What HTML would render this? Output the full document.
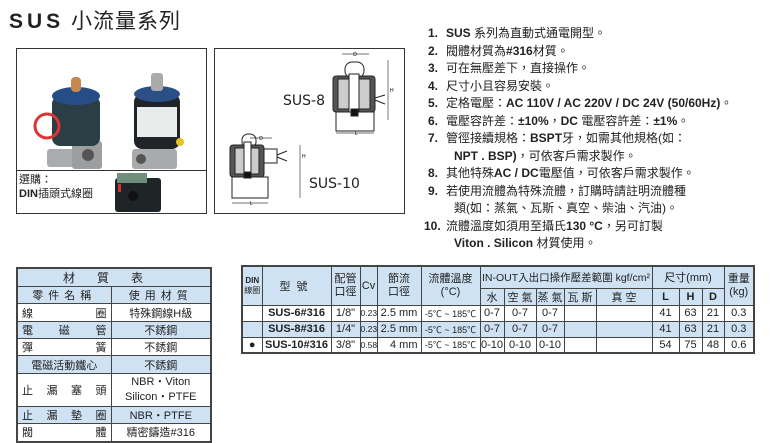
<!DOCTYPE html>
<html><head><meta charset="utf-8"><style>
*{margin:0;padding:0;box-sizing:border-box}
body{width:771px;height:440px;background:#fff;position:relative;overflow:hidden;font-family:"Liberation Sans","Noto Sans CJK TC",sans-serif;color:#222}
.abs{position:absolute}
.title{left:9px;top:5px;font-size:21px;white-space:nowrap;letter-spacing:1px}
.title b{font-family:"Liberation Sans",sans-serif;font-weight:900;letter-spacing:4px}
.box{border:1px solid #333}
.list{left:428px;top:25px;font-size:12px;line-height:17.5px;white-space:nowrap}
.list div{position:relative;padding-left:18px}
.list .n{position:absolute;left:0;font-weight:bold}
.list .c{padding-left:26px}
table{border-collapse:collapse;position:absolute;font-size:11px;table-layout:fixed}
td{border:1px solid #444;text-align:center;padding:0;overflow:hidden;white-space:nowrap}
.bl{background:#cfe2f3}
</style></head><body>
<div class="abs title"><b>SUS</b> 小流量系列</div>

<div class="abs box" style="left:16px;top:48px;width:191px;height:166px"></div>
<div class="abs" style="left:16px;top:170px;width:191px;height:1px;background:#333"></div>
<svg class="abs" style="left:17px;top:49px" width="189" height="120">
<rect x="30" y="100" width="45" height="18" rx="3" fill="#a9abad"/>
<rect x="55" y="92" width="30" height="28" rx="3" fill="#9c9ea0"/>
<circle cx="71" cy="106" r="6" fill="#555"/>
<rect x="35" y="47" width="48" height="50" rx="8" fill="#2c3e45"/>
<ellipse cx="59" cy="47" rx="24" ry="9" fill="#274d86"/>
<rect x="54" y="28" width="10" height="15" rx="4" fill="#c8884d"/>
<circle cx="30" cy="77" r="12" fill="none" stroke="#d33" stroke-width="3"/>
<rect x="115" y="100" width="45" height="20" rx="3" fill="#a8aaac"/>
<circle cx="124" cy="110" r="5" fill="#555"/>
<rect x="117" y="45" width="46" height="55" rx="8" fill="#202428"/>
<ellipse cx="140" cy="45" rx="23" ry="8" fill="#2b4f86"/>
<rect x="134" y="24" width="12" height="18" rx="3" fill="#aaa"/>
<rect x="120" y="58" width="40" height="30" fill="#e9eceb"/>
<circle cx="163" cy="93" r="4" fill="#e8c221"/>
</svg>
<div class="abs" style="left:19px;top:173px;font-size:11px;line-height:14px">選購：<br><b>DIN</b>插頭式線圈</div>
<svg class="abs" style="left:105px;top:172px" width="70" height="42">
<rect x="10" y="6" width="46" height="34" rx="3" fill="#1f2426"/>
<rect x="12" y="1" width="30" height="10" fill="#6f8f7d"/>
<circle cx="28" cy="24" r="5" fill="#111"/>
<rect x="13" y="12" width="3" height="8" fill="#c33"/>
</svg>

<div class="abs box" style="left:214px;top:48px;width:191px;height:166px"></div>
<svg class="abs" style="left:214px;top:48px" width="191" height="166" font-family="Liberation Sans">
<g stroke="#222" fill="#fff" stroke-width="1">
<rect x="131" y="14" width="19" height="16" rx="7"/>
<rect x="119" y="28" width="42" height="36" rx="3" fill="#555"/>
<rect x="124" y="31" width="32" height="30" fill="#ccc"/>
<rect x="135" y="26" width="10" height="40" fill="#fff"/>
<rect x="122" y="64" width="38" height="19"/>
<rect x="137" y="61" width="7" height="7" fill="#111"/>
<path d="M161 50 l10 -3 M161 52 l10 4" fill="none"/>
</g>
<g stroke="#444" stroke-width="0.7" fill="none"><path d="M128 6 h27 M174 12 v60 M122 85 h38"/></g>
<text x="141" y="8" font-size="5" text-anchor="middle">D</text>
<text x="176" y="44" font-size="5">H</text>
<text x="141" y="87" font-size="5">L</text>
<g stroke="#222" fill="#fff" stroke-width="1">
<rect x="28" y="86" width="14" height="14" rx="6"/>
<rect x="16" y="97" width="34" height="32" rx="3" fill="#555"/>
<rect x="21" y="100" width="24" height="26" fill="#ccc"/>
<rect x="30" y="94" width="7" height="38" fill="#fff"/>
<rect x="50" y="101" width="13" height="14"/>
<rect x="18" y="129" width="36" height="21"/>
<rect x="30" y="124" width="7" height="6" fill="#111"/>
<path d="M63 107 l10 -4 M63 109 l10 4" fill="none"/>
</g>
<g stroke="#444" stroke-width="0.7" fill="none"><path d="M36 90 h22 M86 97 v53 M18 155 h36"/></g>
<text x="47" y="92" font-size="5" text-anchor="middle">D</text>
<text x="88" y="110" font-size="5">H</text>
<text x="36" y="157" font-size="5">L</text>
<text x="69" y="57" font-size="14" fill="#222" font-family="DejaVu Sans">SUS-8</text>
<text x="95" y="140" font-size="14" fill="#222" font-family="DejaVu Sans">SUS-10</text>
</svg>

<div class="abs list">
<div><span class="n">1.</span> <b>SUS</b> 系列為直動式通電開型。</div>
<div><span class="n">2.</span> 閥體材質為<b>#316</b>材質。</div>
<div><span class="n">3.</span> 可在無壓差下，直接操作。</div>
<div><span class="n">4.</span> 尺寸小且容易安裝。</div>
<div><span class="n">5.</span> 定格電壓：<b>AC 110V / AC 220V / DC 24V (50/60Hz)</b>。</div>
<div><span class="n">6.</span> 電壓容許差：<b>±10%</b>，<b>DC</b> 電壓容許差：<b>±1%</b>。</div>
<div><span class="n">7.</span> 管徑接續規格：<b>BSPT</b>牙，如需其他規格(如：</div>
<div class="c"><b>NPT . BSP)</b>，可依客戶需求製作。</div>
<div><span class="n">8.</span> 其他特殊<b>AC / DC</b>電壓值，可依客戶需求製作。</div>
<div><span class="n">9.</span> 若使用流體為特殊流體，訂購時請註明流體種</div>
<div class="c">類(如：蒸氣、瓦斯、真空、柴油、汽油)。</div>
<div><span class="n" style="left:-4px">10.</span> 流體溫度如須用至攝氏<b>130 °C</b>，另可訂製</div>
<div class="c"><b>Viton . Silicon</b> 材質使用。</div>
</div>

<table style="left:16px;top:267px;width:194px;border:2px solid #444">
<colgroup><col style="width:94px"><col style="width:100px"></colgroup>
<tr style="height:18px" class="bl"><td colspan="2" style="font-size:12px;letter-spacing:22px">材質表</td></tr>
<tr style="height:14px" class="bl"><td style="letter-spacing:5px">零件名稱</td><td style="letter-spacing:5px">使用材質</td></tr>
<tr style="height:18px"><td style="text-align-last:justify;padding:0 4px">線 圈</td><td>特殊鋼線H級</td></tr>
<tr style="height:16px" class="bl"><td style="text-align-last:justify;padding:0 4px">電 磁 管</td><td>不銹鋼</td></tr>
<tr style="height:15px"><td style="text-align-last:justify;padding:0 4px">彈 簧</td><td>不銹鋼</td></tr>
<tr style="height:18px" class="bl"><td>電磁活動鐵心</td><td>不銹鋼</td></tr>
<tr style="height:33px"><td style="text-align-last:justify;padding:0 4px">止 漏 塞 頭</td><td style="line-height:15px">NBR・Viton<br>Silicon・PTFE</td></tr>
<tr style="height:16px" class="bl"><td style="text-align-last:justify;padding:0 4px">止 漏 墊 圈</td><td>NBR・PTFE</td></tr>
<tr style="height:18px"><td style="text-align-last:justify;padding:0 4px">閥 體</td><td>精密鑄造#316</td></tr>
</table>

<table style="left:241px;top:265px;width:512px;border:2px solid #444">
<colgroup><col style="width:20px"><col style="width:69px"><col style="width:29px"><col style="width:17px"><col style="width:44px"><col style="width:59px"><col style="width:24px"><col style="width:32px"><col style="width:28px"><col style="width:32px"><col style="width:56px"><col style="width:27px"><col style="width:23px"><col style="width:22px"><col style="width:30px"></colgroup>
<tr style="height:22px" class="bl"><td rowspan="2" style="font-size:8px;line-height:10px"><b>DIN</b><br>線圈</td><td rowspan="2" style="letter-spacing:6px">型號</td><td rowspan="2" style="line-height:13px">配管<br>口徑</td><td rowspan="2">Cv</td><td rowspan="2" style="line-height:13px">節流<br>口徑</td><td rowspan="2" style="line-height:13px">流體溫度<br>(°C)</td><td colspan="5" style="font-size:10.5px">IN-OUT入出口操作壓差範圍 kgf/cm²</td><td colspan="3">尺寸(mm)</td><td rowspan="2" style="line-height:13px">重量<br>(kg)</td></tr>
<tr style="height:14px" class="bl"><td>水</td><td>空 氣</td><td>蒸 氣</td><td>瓦 斯</td><td>真 空</td><td><b>L</b></td><td><b>H</b></td><td><b>D</b></td></tr>
<tr style="height:16px"><td></td><td><b>SUS-6#316</b></td><td>1/8"</td><td style="font-size:8.5px">0.23</td><td>2.5 mm</td><td style="font-size:9px">-5℃ ~ 185℃</td><td>0-7</td><td>0-7</td><td>0-7</td><td></td><td></td><td>41</td><td>63</td><td>21</td><td>0.3</td></tr>
<tr style="height:16px" class="bl"><td></td><td><b>SUS-8#316</b></td><td>1/4"</td><td style="font-size:8.5px">0.23</td><td>2.5 mm</td><td style="font-size:9px">-5℃ ~ 185℃</td><td>0-7</td><td>0-7</td><td>0-7</td><td></td><td></td><td>41</td><td>63</td><td>21</td><td>0.3</td></tr>
<tr style="height:16px"><td>●</td><td><b>SUS-10#316</b></td><td>3/8"</td><td style="font-size:8.5px">0.58</td><td style="text-align:right;padding-right:3px">4 mm</td><td style="font-size:9px">-5℃ ~ 185℃</td><td>0-10</td><td>0-10</td><td>0-10</td><td></td><td></td><td>54</td><td>75</td><td>48</td><td>0.6</td></tr>
</table>
</body></html>
